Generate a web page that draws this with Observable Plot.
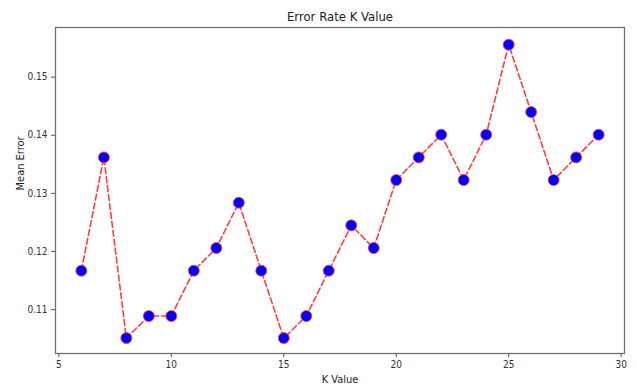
<!DOCTYPE html>
<html>
<head>
<meta charset="utf-8">
<script src="https://cdn.jsdelivr.net/npm/d3@7"></script>
<script src="https://cdn.jsdelivr.net/npm/@observablehq/plot@0.6"></script>
<style>
  html, body { margin: 0; padding: 0; background: #fff; }
  #chart svg { display: block; }
</style>
</head>
<body>
<div id="chart"></div>
<script>
const kValues = [6, 7, 8, 9, 10, 11, 12, 13, 14, 15, 16, 17, 18, 19, 20, 21, 22, 23, 24, 25, 26, 27, 28, 29];
const meanError = [0.1167, 0.1362, 0.1051, 0.1089, 0.1089, 0.1167, 0.1206, 0.1284, 0.1167, 0.1051, 0.1089, 0.1167,
                   0.1245, 0.1206, 0.1323, 0.1362, 0.1401, 0.1323, 0.1401, 0.1556, 0.1440, 0.1323, 0.1362, 0.1401];
const xTicks = [5, 10, 15, 20, 25, 30];
const yTicks = [0.11, 0.12, 0.13, 0.14, 0.15];
const titleText = "Error Rate K Value";
const xLabel = "K Value";
const yLabel = "Mean Error";

const data = kValues.map((k, i) => ({k, err: meanError[i]}));

const font = "'Liberation Sans Narrow', 'DejaVu Sans Condensed', 'Liberation Sans', sans-serif";

const chart = Plot.plot({
  width: 637,
  height: 385,
  marginLeft: 55,
  marginRight: 13,
  marginTop: 27,
  marginBottom: 32,
  style: {fontFamily: font, fontSize: "10px", color: "#333", background: "#fff"},
  x: {domain: [4.85, 30.15], ticks: xTicks, tickFormat: d => String(d)},
  y: {domain: [0.10245, 0.15855], ticks: yTicks, tickFormat: d => d.toFixed(2)},
  marks: [
    Plot.frame({stroke: "#707070", strokeWidth: 1.3}),
    Plot.axisX({ticks: xTicks, tickSize: 4, tickPadding: 3, label: null, stroke: "#555", fill: "#333", fontSize: 10}),
    Plot.axisY({ticks: yTicks, tickSize: 4, tickPadding: 4, label: null, stroke: "#555", fill: "#333", fontSize: 10, tickFormat: d => d.toFixed(2)}),
    Plot.line(data, {x: "k", y: "err", stroke: "#ff2a2a", strokeWidth: 1.6, strokeDasharray: "6,3", strokeOpacity: 0.9}),
    Plot.dot(data, {x: "k", y: "err", r: 5.5, fill: "#0000ff", stroke: "#ff4040", strokeWidth: 0.9}),
    Plot.text([titleText], {frameAnchor: "top", dy: -16, fontSize: 13, fill: "#222"}),
    Plot.text([xLabel], {frameAnchor: "bottom", dy: 29, fontSize: 11, fill: "#222"}),
    Plot.text([yLabel], {frameAnchor: "left", dx: -35, rotate: -90, fontSize: 11, fill: "#222"})
  ]
});
document.getElementById("chart").appendChild(chart);
</script>
</body>
</html>
